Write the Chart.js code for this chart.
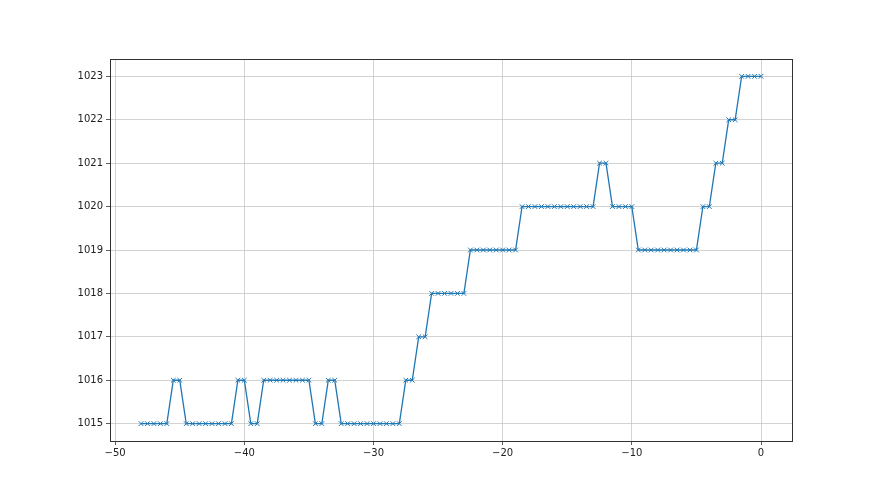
<!DOCTYPE html>
<html>
<head>
<meta charset="utf-8">
<script src="https://cdn.jsdelivr.net/npm/chart.js@4/dist/chart.umd.min.js"></script>
<style>
html,body{margin:0;padding:0;background:#fff;}
#wrap{width:880px;height:495px;}
</style>
</head>
<body>
<div id="wrap"><canvas id="c" width="880" height="495"></canvas></div>
<script>
// x positions: -48 to 0 in steps of 0.5
const xValues = [
  -48,-47.5,-47,-46.5,-46,-45.5,-45,-44.5,-44,-43.5,-43,-42.5,-42,-41.5,-41,-40.5,-40,
  -39.5,-39,-38.5,-38,-37.5,-37,-36.5,-36,-35.5,-35,-34.5,-34,-33.5,-33,-32.5,-32,-31.5,
  -31,-30.5,-30,-29.5,-29,-28.5,-28,-27.5,-27,-26.5,-26,-25.5,-25,-24.5,-24,-23.5,-23,
  -22.5,-22,-21.5,-21,-20.5,-20,-19.5,-19,-18.5,-18,-17.5,-17,-16.5,-16,-15.5,-15,-14.5,
  -14,-13.5,-13,-12.5,-12,-11.5,-11,-10.5,-10,-9.5,-9,-8.5,-8,-7.5,-7,-6.5,-6,-5.5,-5,
  -4.5,-4,-3.5,-3,-2.5,-2,-1.5,-1,-0.5,0
];
const yValues = [
  1015,1015,1015,1015,1015,1016,1016,1015,1015,1015,1015,1015,1015,1015,1015,1016,1016,
  1015,1015,1016,1016,1016,1016,1016,1016,1016,1016,1015,1015,1016,1016,1015,1015,1015,
  1015,1015,1015,1015,1015,1015,1015,1016,1016,1017,1017,1018,1018,1018,1018,1018,1018,
  1019,1019,1019,1019,1019,1019,1019,1019,1020,1020,1020,1020,1020,1020,1020,1020,1020,
  1020,1020,1020,1021,1021,1020,1020,1020,1020,1019,1019,1019,1019,1019,1019,1019,1019,1019,1019,
  1020,1020,1021,1021,1022,1022,1023,1023,1023,1023
];
const xTicks = [-50,-40,-30,-20,-10,0];
const yTicks = [1015,1016,1017,1018,1019,1020,1021,1022,1023];

const points = xValues.map((x,i)=>({x:x,y:yValues[i]}));

const frame = {
  id:'frame',
  afterDatasetsDraw(chart){
    const a = chart.chartArea, ctx = chart.ctx;
    ctx.save();
    ctx.strokeStyle = '#333';
    ctx.lineWidth = 1;
    ctx.strokeRect(Math.round(a.left)+0.5, Math.round(a.top)+0.5, Math.round(a.right-a.left), Math.round(a.bottom-a.top));
    ctx.restore();
  }
};

new Chart(document.getElementById('c'), {
  type:'scatter',
  data:{datasets:[{
    data:points,
    showLine:true,
    borderColor:'#1f77b4',
    backgroundColor:'#1f77b4',
    borderWidth:1.3,
    pointStyle:'crossRot',
    pointRadius:3.3,
    pointBorderWidth:1,
    pointBorderColor:'#1f77b4',
    pointHoverRadius:3.3,
    tension:0
  }]},
  options:{
    responsive:false,
    animation:false,
    events:[],
    layout:{padding:{top:59,right:88,left:0,bottom:0}},
    plugins:{legend:{display:false},tooltip:{enabled:false}},
    scales:{
      x:{
        type:'linear',
        min:-50.4, max:2.4,
        afterBuildTicks(s){ s.ticks = xTicks.map(v=>({value:v})); },
        afterFit(s){ s.height = 54; },
        grid:{color:'#c8c8c8', lineWidth:0.8, tickLength:4, tickColor:'#333', drawTicks:true},
        border:{display:false},
        ticks:{color:'#222', font:{family:'DejaVu Sans', size:10}, padding:2, maxRotation:0,
          callback:(v)=> (v<0 ? '\u2212'+Math.abs(v) : String(v))}
      },
      y:{
        type:'linear',
        min:1014.6, max:1023.4,
        afterBuildTicks(s){ s.ticks = yTicks.map(v=>({value:v})); },
        afterFit(s){ s.width = 110; },
        grid:{color:'#c8c8c8', lineWidth:0.8, tickLength:4, tickColor:'#333', drawTicks:true},
        border:{display:false},
        ticks:{color:'#222', font:{family:'DejaVu Sans', size:10}, padding:3,
          callback:(v)=> String(v)}
      }
    }
  },
  plugins:[frame]
});
</script>
</body>
</html>
